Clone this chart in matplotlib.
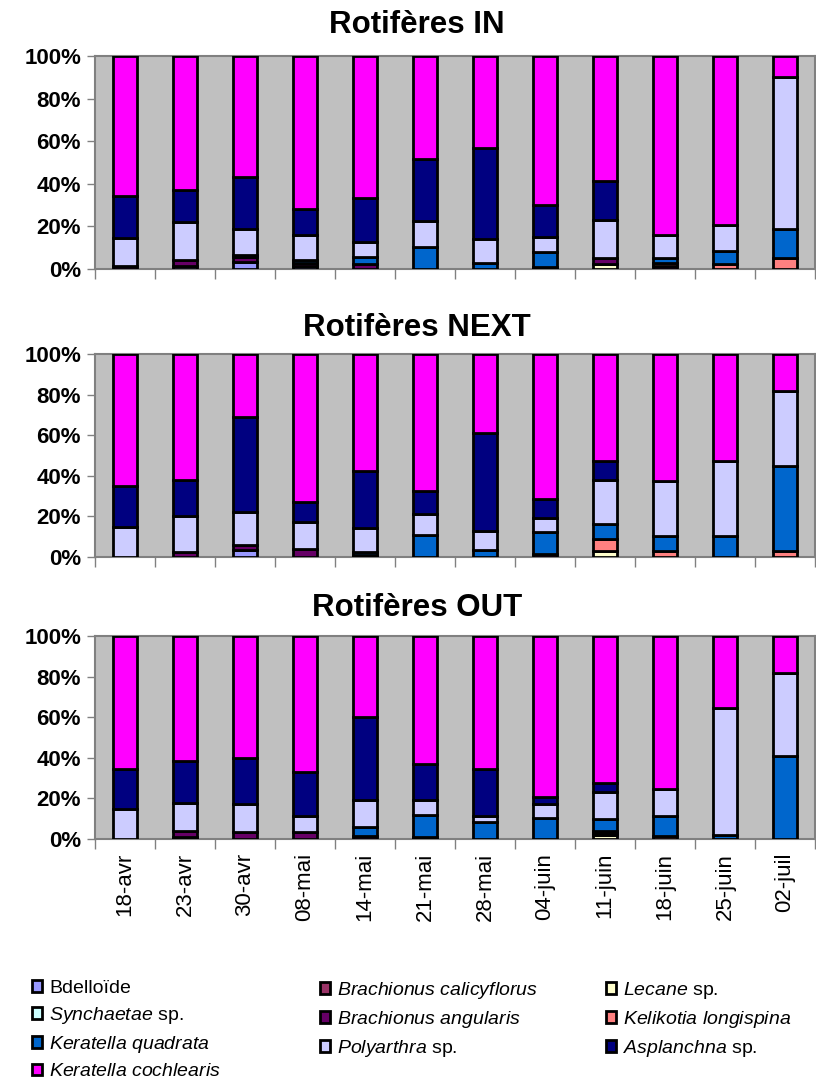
import numpy as np
import matplotlib
matplotlib.use("Agg")
import matplotlib.pyplot as plt

plt.rcParams['font.family'] = ['Liberation Sans', 'DejaVu Sans']
plt.rcParams['mathtext.fontset'] = 'custom'
plt.rcParams['mathtext.it'] = 'Liberation Sans:italic'
plt.rcParams['mathtext.rm'] = 'Liberation Sans'

dates = ["18-avr", "23-avr", "30-avr", "08-mai", "14-mai", "21-mai",
         "28-mai", "04-juin", "11-juin", "18-juin", "25-juin", "02-juil"]

# stacking order, bottom to top
species = ["Bdelloïde", "Brachionus calicyflorus", "Lecane sp.", "Synchaetae sp.",
           "Brachionus angularis", "Kelikotia longispina", "Keratella quadrata",
           "Polyarthra sp.", "Asplanchna sp.", "Keratella cochlearis"]
labels = [r"Bdelloïde", r"$\mathit{Brachionus\ calicyflorus}$", r"$\mathit{Lecane}$ sp.",
          r"$\mathit{Synchaetae}$ sp.", r"$\mathit{Brachionus\ angularis}$",
          r"$\mathit{Kelikotia\ longispina}$", r"$\mathit{Keratella\ quadrata}$",
          r"$\mathit{Polyarthra}$ sp.", r"$\mathit{Asplanchna}$ sp.",
          r"$\mathit{Keratella\ cochlearis}$"]
colors = ["#9999FF", "#993366", "#FFFFCC", "#CCFFFF", "#660066",
          "#FF8080", "#0066CC", "#CCCCFF", "#000080", "#FF00FF"]

# % per species (same order as species), per sampling date
rot_in = {
    "Bdelloïde":               [0, 1.5, 3.5, 1.5, 0, 0, 0, 0, 0, 0, 0, 0],
    "Brachionus calicyflorus": [0, 0, 0, 0, 0, 0, 0, 0, 0, 0, 0, 0],
    "Lecane sp.":              [0, 0, 0, 0, 0, 0, 0, 0, 2.5, 0, 0, 0],
    "Synchaetae sp.":          [0, 0, 0, 0, 0, 0, 0, 0, 0, 0, 0, 0],
    "Brachionus angularis":    [1.5, 2.5, 2, 1.5, 2.5, 0, 0, 1, 2.5, 1.5, 0, 0],
    "Kelikotia longispina":    [0, 0, 0, 0, 0, 0, 0, 0, 0, 1.5, 2.5, 5],
    "Keratella quadrata":      [0, 0, 1, 1, 3, 10.5, 3, 7, 0, 2, 6, 14],
    "Polyarthra sp.":          [13, 18, 12.5, 12, 7, 12, 11, 7, 18, 11, 12, 71],
    "Asplanchna sp.":          [20, 15, 24, 12, 21, 29, 43, 15, 18.5, 0, 0, 0],
    "Keratella cochlearis":    [65.5, 63, 57, 72, 66.5, 48.5, 43, 70, 58.5, 84, 79.5, 10],
}
rot_next = {
    "Bdelloïde":               [0, 0, 3.4, 0, 0, 0, 0, 0, 0, 0, 0, 0],
    "Brachionus calicyflorus": [0, 0, 0, 0, 0, 0, 0, 0, 0, 0, 0, 0],
    "Lecane sp.":              [0, 0, 0, 0, 0, 0, 0, 0, 3, 0, 0, 0],
    "Synchaetae sp.":          [0, 0, 0, 0, 0, 0, 0, 0, 0, 0, 0, 0],
    "Brachionus angularis":    [0, 2.5, 2.4, 4, 1, 0, 0, 1.5, 0, 0, 0, 0],
    "Kelikotia longispina":    [0, 0, 0, 0, 0, 0, 0, 0, 6, 3, 0, 3],
    "Keratella quadrata":      [0, 0, 0, 0, 1.5, 11, 3.5, 11, 7.5, 7.5, 10.5, 42],
    "Polyarthra sp.":          [15, 17.5, 16.4, 13, 12, 10, 9.5, 6.5, 21.5, 27, 37, 37],
    "Asplanchna sp.":          [20, 18, 46.8, 10, 28, 11.5, 48, 9.5, 9.5, 0, 0, 0],
    "Keratella cochlearis":    [65, 62, 31, 73, 57.5, 67.5, 39, 71.5, 52.5, 62.5, 52.5, 18],
}
rot_out = {
    "Bdelloïde":               [0, 1, 0, 0, 0, 0, 0, 0, 0, 0, 0, 0],
    "Brachionus calicyflorus": [0, 0, 0, 0, 0, 0, 0, 0, 0, 0, 0, 0],
    "Lecane sp.":              [0, 0, 0, 0, 0, 0, 0, 0, 2, 0, 0, 0],
    "Synchaetae sp.":          [0, 0, 0, 0, 0, 0, 0, 0, 0, 0, 0, 0],
    "Brachionus angularis":    [0, 3, 3.5, 3.5, 1.5, 1, 0, 0, 1, 0, 0, 0],
    "Kelikotia longispina":    [0, 0, 0, 0, 0, 0, 0, 0, 1, 1.5, 0, 0],
    "Keratella quadrata":      [0, 0, 0, 0, 4.5, 11, 8.5, 10.5, 6, 10, 2, 41],
    "Polyarthra sp.":          [15, 13.5, 13.5, 8, 13, 7, 3, 6.5, 13, 13, 62.5, 41],
    "Asplanchna sp.":          [19.5, 21, 23, 21.5, 41, 18, 23, 3.5, 4.5, 0, 0, 0],
    "Keratella cochlearis":    [65.5, 61.5, 60, 67, 40, 63, 65.5, 79.5, 72.5, 75.5, 35.5, 18],
}

panels = [("Rotifères IN", rot_in), ("Rotifères NEXT", rot_next), ("Rotifères OUT", rot_out)]

H = 1079.0
# (top px, bottom px, title centre px)
boxes = [(56, 269, 25), (354, 557, 328), (636, 839, 608)]
left, right = 95 / 816, 815 / 816

fig = plt.figure(figsize=(8.16, 10.79), dpi=100)
x = np.arange(len(dates))
handles = []
for i, ((title, data), (top, bot, ty)) in enumerate(zip(panels, boxes)):
    ax = fig.add_axes([left, 1 - bot / H, right - left, (bot - top) / H])
    ax.set_facecolor("#C0C0C0")
    bottom = np.zeros(len(dates))
    for sp, col in zip(species, colors):
        vals = np.array(data[sp], dtype=float)
        b = ax.bar(x, vals, 0.4, bottom=bottom, color=col, edgecolor="black",
                   linewidth=2.0, zorder=3)
        if i == 0:
            handles.append(b)
        bottom += vals
    ax.set_xlim(-0.5, len(dates) - 0.5)
    ax.set_ylim(0, 100)
    ax.set_yticks(np.arange(0, 101, 20))
    ax.set_yticklabels([f"{v}%" for v in range(0, 101, 20)], fontsize=16, fontweight="bold")
    ax.tick_params(axis="y", length=6, width=1, color="#808080", pad=4)
    ax.set_xticks(x)
    ax.set_xticks(np.arange(-0.5, len(dates), 1), minor=True)
    ax.tick_params(axis="x", which="major", length=0)
    ax.tick_params(axis="x", which="minor", length=7, width=1, color="#808080")
    if i == 2:
        ax.set_xticklabels(dates, rotation=90, fontsize=16, va="top")
        ax.tick_params(axis="x", which="major", pad=10)
    else:
        ax.set_xticklabels([])
    for s in ax.spines.values():
        s.set_color("#808080")
        s.set_linewidth(1.5)
    fig.text(417 / 816, 1 - ty / H, title, ha="center", va="center",
             fontsize=22.5, fontweight="bold")

# legend: three columns
cols = [[0, 3, 6, 9], [1, 4, 7], [2, 5, 8]]
col_x = [24, 312, 598]
for cx, idx in zip(col_x, cols):
    fig.legend([handles[k] for k in idx], [labels[k] for k in idx],
               loc="upper left", bbox_to_anchor=(cx / 816, 1 - 972 / H),
               frameon=False, fontsize=14, handlelength=0.55, handleheight=0.55,
               handletextpad=0.35, labelspacing=0.42, borderaxespad=0)

fig.savefig("out.png", dpi=100)
